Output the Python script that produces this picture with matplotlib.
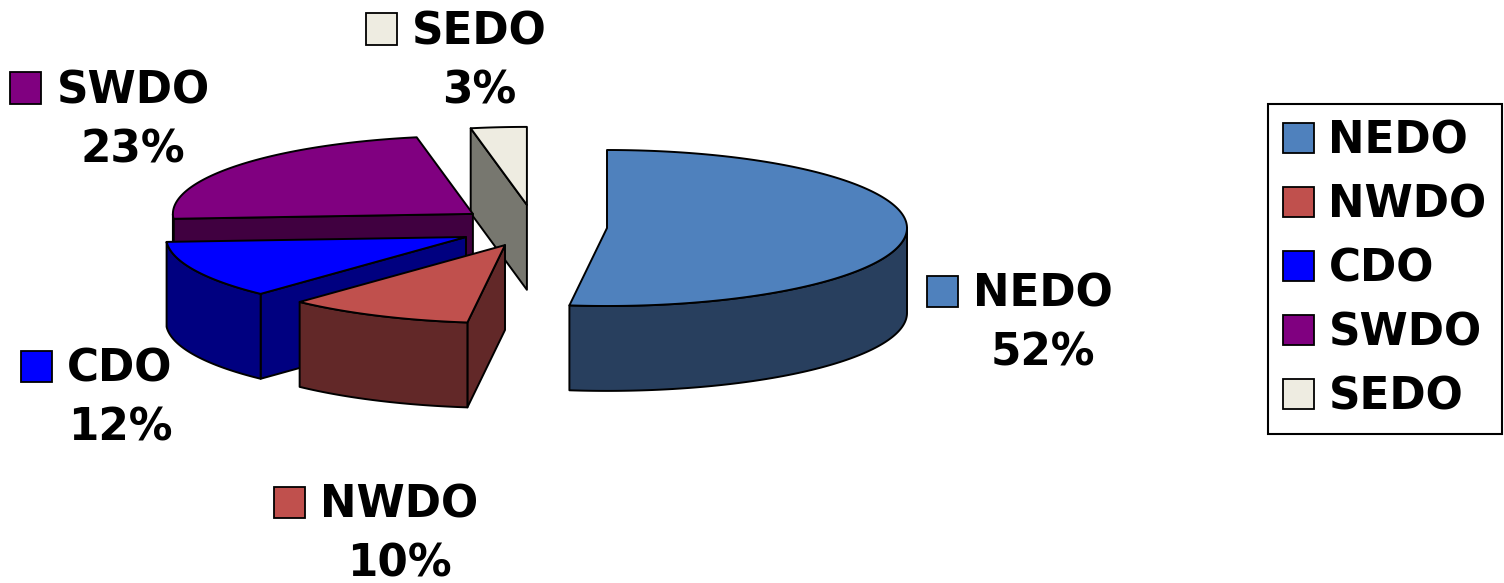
import matplotlib
matplotlib.use('Agg')
import matplotlib.pyplot as plt
from matplotlib.patches import Polygon, Rectangle, Patch
import numpy as np

# ---- data ----
categories = ['NEDO', 'NWDO', 'CDO', 'SWDO', 'SEDO']
values = [52, 10, 12, 23, 3]

# ---- style ----
top_colors = ['#4F81BD', '#C0504D', '#0000FF', '#800080', '#EEECE1']
side_colors = ['#283F5E', '#622828', '#000080', '#400040', '#77776F']
explode = [(0.0, 0.0), (-0.34, -0.057), (-0.47, -0.03), (-0.447, 0.047), (-0.267, 0.077)]
RX, RY, DEPTH = 1.0, 0.26, 0.283
W, H = 1504, 583
FS = 31.5
FONT = dict(family='DejaVu Sans', weight='bold')
# label anchors (pixel positions of name-text centre)
label_pos = [(1043, 291), (399, 502), (120, 366), (133, 88), (479, 29)]

fig = plt.figure(figsize=(W / 100, H / 100), dpi=100)
ax = fig.add_axes([0, 0, 1, 1])
ax.set_xlim(-607 / 300, (W - 607) / 300)
ax.set_ylim((228 - H) / 300, 228 / 300)
ax.axis('off')

total = float(sum(values))
spans = [v / total * 360.0 for v in values]
starts = []
a = 90.0
for s in spans:
    starts.append(a)
    a -= s


def pts(c, th_deg, dz=0.0):
    th = np.radians(th_deg)
    return np.column_stack([c[0] + RX * np.cos(th), c[1] + RY * np.sin(th) - dz])


def arc(c, t1, t2, dz=0.0):
    n = max(int(abs(t1 - t2) * 2) + 2, 4)
    return pts(c, np.linspace(t1, t2, n), dz)


LW = 1.4
order = sorted(range(len(values)),
               key=lambda i: -np.sin(np.radians(starts[i] - spans[i] / 2)))
for i in order:
    c = explode[i]
    t1, t2 = starts[i], starts[i] - spans[i]
    sc = side_colors[i]
    cen = np.array([[c[0], c[1]]])
    cend = np.array([[c[0], c[1] - DEPTH]])
    # cut faces
    if np.cos(np.radians(t1)) < -1e-6:
        p = pts(c, [t1]); pd = pts(c, [t1], DEPTH)
        ax.add_patch(Polygon(np.vstack([cen, p, pd, cend]), closed=True,
                             fc=sc, ec='black', lw=LW, joinstyle='round'))
    if np.cos(np.radians(t2)) > 1e-6:
        p = pts(c, [t2]); pd = pts(c, [t2], DEPTH)
        ax.add_patch(Polygon(np.vstack([cen, p, pd, cend]), closed=True,
                             fc=sc, ec='black', lw=LW, joinstyle='round'))
    # outer wall (front half only)
    for k in range(-2, 2):
        lo, hi = -180 + 360 * k, 0 + 360 * k
        a1, a2 = min(t1, hi), max(t2, lo)
        if a1 > a2:
            top = arc(c, a1, a2)
            bot = arc(c, a2, a1, DEPTH)
            ax.add_patch(Polygon(np.vstack([top, bot]), closed=True,
                                 fc=sc, ec='black', lw=LW, joinstyle='round'))
    # top face
    ax.add_patch(Polygon(np.vstack([cen, arc(c, t1, t2)]), closed=True,
                         fc=top_colors[i], ec='black', lw=LW, joinstyle='round'))

# ---- data labels ----
fig.canvas.draw()
rend = fig.canvas.get_renderer()
fs_px = FS * 100 / 72.0
cap = 0.729 * fs_px
for i, cat in enumerate(categories):
    x, y = label_pos[i]
    t = fig.text(x / W, 1 - (y + cap / 2) / H, cat, ha='center', va='baseline',
                 fontsize=FS, **FONT)
    fig.text(x / W, 1 - (y + 59 + cap / 2) / H, f"{values[i]}%", ha='center',
             va='baseline', fontsize=FS, **FONT)
    bb = t.get_window_extent(renderer=rend)
    sq = 31
    x0 = bb.x0 - 15 - sq
    fig.add_artist(Rectangle((x0 / W, 1 - (y + sq / 2) / H), sq / W, sq / H,
                             transform=fig.transFigure, fc=top_colors[i],
                             ec='black', lw=1.3))

# ---- legend ----
handles = [Patch(facecolor=top_colors[i], edgecolor='black', lw=1.3, label=categories[i])
           for i in range(len(categories))]
leg = fig.legend(handles=handles, loc='center right',
                 bbox_to_anchor=(1502 / W, 1 - 269 / H), borderaxespad=0,
                 prop=dict(size=FS, **FONT), handlelength=0.7, handleheight=0.7,
                 handletextpad=0.33, labelspacing=0.48, borderpad=0.35,
                 fancybox=False, edgecolor='black', framealpha=1)
leg.get_frame().set_linewidth(1.5)

fig.savefig('out.png', dpi=100)
